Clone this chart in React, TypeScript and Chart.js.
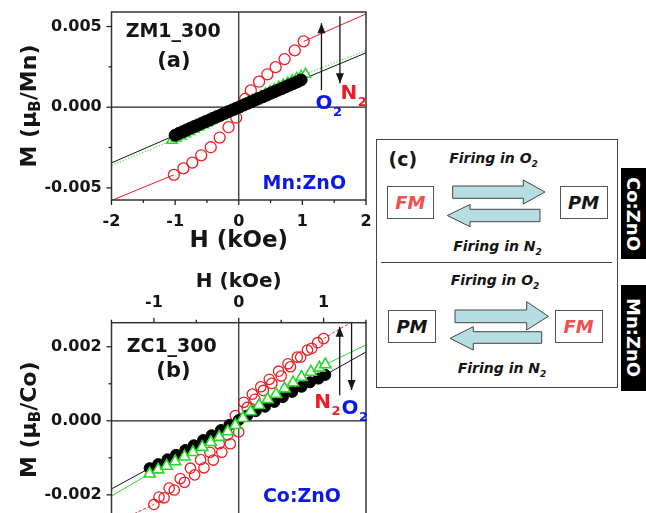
import React, { useEffect, useRef } from "react";
import { Chart, registerables } from "chart.js";

Chart.register(...registerables);

const FONT = '"DejaVu Sans", "Liberation Sans", sans-serif';
const RED = "rgb(236,30,36)";
const GREEN = "rgb(40,215,40)";
const LIGHTGREEN = "rgb(120,228,120)";
const BLUE = "rgb(12,24,230)";
const INK = "#151515";

// ---------------- Panel (a): ZM1_300, Mn:ZnO ----------------
const A_X_RANGE = [-2, 2];
const A_Y_RANGE = [-0.00575, 0.0059];
const A_X_TICKS = [-2, -1, 0, 1, 2];
const A_X_MINOR = [-1.5, -0.5, 0.5, 1.5];
const A_Y_TICKS = [-0.005, 0, 0.005];
const A_Y_MINOR = [-0.0025, 0.0025];

const A_RED_H = [-1.02, -0.87, -0.73, -0.59, -0.44, -0.3, -0.16, -0.04, 0.1, 0.19, 0.32, 0.45, 0.58, 0.72, 0.88, 1.02];
const A_RED_M = [-0.00419, -0.00379, -0.00343, -0.00298, -0.00248, -0.00188, -0.00124, -0.00064, 0.00052, 0.00104, 0.00158, 0.00204, 0.00248, 0.00298, 0.00352, 0.00408];

const A_BLK_H = [-1.0, -0.94, -0.88, -0.82, -0.76, -0.7, -0.64, -0.58, -0.52, -0.46, -0.4, -0.34, -0.28, -0.22, -0.16, -0.1, -0.04, 0.02, 0.08, 0.14, 0.2, 0.26, 0.32, 0.38, 0.44, 0.5, 0.56, 0.62, 0.68, 0.74, 0.8, 0.86, 0.92, 0.98];
const A_BLK_M = [-0.00174, -0.00162, -0.00152, -0.00141, -0.0013, -0.0012, -0.0011, -0.00099, -0.00089, -0.00079, -0.00068, -0.00058, -0.00048, -0.00037, -0.00027, -0.00017, -0.00007, 0.00003, 0.00014, 0.00024, 0.00034, 0.00045, 0.00055, 0.00065, 0.00075, 0.00086, 0.00096, 0.00106, 0.00116, 0.00127, 0.00137, 0.00147, 0.00157, 0.00169];

const A_GRN_H = [-1.05, -0.98, -0.91, -0.84, -0.77, -0.7, -0.63, -0.56, -0.49, -0.42, -0.35, -0.28, -0.21, -0.14, -0.07, 0.0, 0.07, 0.14, 0.21, 0.28, 0.35, 0.42, 0.49, 0.56, 0.63, 0.7, 0.77, 0.84, 0.91, 0.98, 1.05];
const A_GRN_M = [-0.00205, -0.00191, -0.00178, -0.00164, -0.0015, -0.00137, -0.00123, -0.00109, -0.00096, -0.00082, -0.00068, -0.00055, -0.00041, -0.00027, -0.00014, 0.0, 0.00014, 0.00027, 0.00041, 0.00055, 0.00068, 0.00082, 0.00096, 0.00109, 0.00123, 0.00137, 0.0015, 0.00164, 0.00178, 0.00191, 0.00205];

// high-field linear fits (null = gap between segments)
const A_RED_FIT_H = [-2, -1.02, null, 1.02, 2];
const A_RED_FIT_M = [-0.00578, -0.00419, null, 0.00408, 0.00578];
const A_BLK_FIT_H = [-2, -1.0, null, 0.98, 2];
const A_BLK_FIT_M = [-0.00345, -0.00174, null, 0.00169, 0.00337];
const A_GRN_FIT_H = [-2, -1.05, null, 1.05, 2];
const A_GRN_FIT_M = [-0.00362, -0.00205, null, 0.00205, 0.00352];

// arrows: O2 (up) and N2 (down)
const A_ARROW_H = [1.3, 1.59];
const A_ARROW_FROM = [0.00106, 0.00564];
const A_ARROW_TO = [0.0052, 0.00148];

// ---------------- Panel (b): ZC1_300, Co:ZnO ----------------
const B_X_RANGE = [-1.5, 1.5];
const B_Y_RANGE = [-0.00295, 0.00265];
const B_X_TICKS = [-1, 0, 1];
const B_X_MINOR = [-1.5, -0.5, 0.5, 1.5];
const B_Y_TICKS = [-0.002, 0, 0.002];
const B_Y_MINOR = [-0.001, 0.001];

const B_RED_H = [-1.0, -0.88, -0.76, -0.64, -0.52, -0.41, -0.3, -0.2, -0.1, 0.0, 0.1, 0.19, 0.29, 0.39, 0.5, 0.61, 0.73, 0.86, 1.0,
  0.93, 0.81, 0.69, 0.58, 0.47, 0.36, 0.26, 0.16, 0.06, -0.04, -0.13, -0.23, -0.34, -0.45, -0.57, -0.69, -0.82, -0.94];
const B_RED_M = [-0.00226, -0.00208, -0.00187, -0.00166, -0.00146, -0.00127, -0.00106, -0.00085, -0.00062, -0.0003, 0.00036, 0.00058, 0.00082, 0.00101, 0.00121, 0.00146, 0.00172, 0.00196, 0.00222,
  0.00211, 0.00191, 0.00172, 0.00154, 0.00134, 0.00112, 0.00092, 0.00072, 0.0005, 0.00014, -0.00038, -0.00062, -0.00085, -0.00105, -0.00128, -0.00156, -0.00182, -0.00206];

const B_BLK_H = [-1.05, -0.95, -0.84, -0.74, -0.63, -0.53, -0.42, -0.32, -0.21, -0.11, 0.0, 0.1, 0.2, 0.31, 0.42, 0.52, 0.63, 0.74, 0.84, 0.94, 1.02];
const B_BLK_M = [-0.00128, -0.00117, -0.00104, -0.00092, -0.00079, -0.00066, -0.00052, -0.00039, -0.00025, -0.00011, 0.00002, 0.00014, 0.00026, 0.00038, 0.00051, 0.00064, 0.00078, 0.00092, 0.00104, 0.00114, 0.00124];

const B_GRN_H = [-1.05, -0.95, -0.85, -0.75, -0.64, -0.54, -0.43, -0.33, -0.23, -0.13, -0.04, 0.05, 0.14, 0.24, 0.34, 0.44, 0.54, 0.64, 0.74, 0.85, 0.95, 1.02];
const B_GRN_M = [-0.00143, -0.00132, -0.00122, -0.0011, -0.00097, -0.00085, -0.00071, -0.00058, -0.00044, -0.00029, -0.00012, 0.00007, 0.00025, 0.00042, 0.00058, 0.00072, 0.00087, 0.00103, 0.00118, 0.00132, 0.00143, 0.00152];

const B_RED_FIT_H = [-1.5, -1.0, null, 1.0, 1.5];
const B_RED_FIT_M = [-0.0028, -0.00226, null, 0.00222, 0.0029];
const B_BLK_FIT_H = [-1.5, -1.05, null, 1.02, 1.5];
const B_BLK_FIT_M = [-0.00184, -0.00128, null, 0.00124, 0.00186];
const B_GRN_FIT_H = [-1.5, -1.05, null, 1.02, 1.5];
const B_GRN_FIT_M = [-0.00203, -0.00143, null, 0.00152, 0.00205];

// arrows: N2 (up) and O2 (down)
const B_ARROW_H = [1.19, 1.33];
const B_ARROW_FROM = [0.00069, 0.00265];
const B_ARROW_TO = [0.00254, 0.00083];

type Label = { text: string; sub?: string; h: number; m: number; color: string; size: number };

const A_LABELS: Label[] = [
  { text: "ZM1_300", h: -1.03, m: 0.00466, color: INK, size: 19 },
  { text: "(a)", h: -1.02, m: 0.00286, color: INK, size: 21 },
  { text: "Mn:ZnO", h: 1.03, m: -0.00478, color: BLUE, size: 19 },
  { text: "O", sub: "2", h: 1.34, m: 0.0002, color: BLUE, size: 20 },
  { text: "N", sub: "2", h: 1.73, m: 0.00085, color: RED, size: 20 },
];

const B_LABELS: Label[] = [
  { text: "ZC1_300", h: -0.79, m: 0.00199, color: INK, size: 19 },
  { text: "(b)", h: -0.77, m: 0.00134, color: INK, size: 21 },
  { text: "Co:ZnO", h: 0.745, m: -0.00207, color: BLUE, size: 19 },
  { text: "N", sub: "2", h: 0.99, m: 0.00049, color: RED, size: 20 },
  { text: "O", sub: "2", h: 1.31, m: 0.00033, color: BLUE, size: 20 },
];

// ---------------- helpers ----------------
const pts = (h: (number | null)[], m: (number | null)[]) => h.map((x, i) => ({ x, y: m[i] }));

function scatterSet(h: number[], m: number[], style: string, r: number, border: string, fill: string, bw: number, order: number) {
  return {
    data: pts(h, m),
    showLine: false,
    pointStyle: style,
    pointRadius: r,
    pointHoverRadius: r,
    borderColor: border,
    pointBorderColor: border,
    backgroundColor: fill,
    pointBackgroundColor: fill,
    pointBorderWidth: bw,
    order,
  };
}

function lineSet(h: (number | null)[], m: (number | null)[], color: string, width: number, dash: number[], order: number, extra: any = {}) {
  return {
    data: pts(h, m),
    showLine: true,
    borderColor: color,
    borderWidth: width,
    borderDash: dash,
    pointRadius: 0,
    pointHoverRadius: 0,
    fill: false,
    spanGaps: false,
    order,
    ...extra,
  };
}

function arrowSets(h: number[], from: number[], to: number[]) {
  return h.map((x, i) => lineSet([x, x], [from[i], to[i]], INK, 1.3, [], 1, { arrowHead: true }));
}

type Decor = {
  xPos: "top" | "bottom";
  xTicks: number[];
  xMinor: number[];
  yTicks: number[];
  yMinor: number[];
  yTitle: [string, string, string];
  yTitleX: number;
  yTitleAtZero: boolean;
  labels: Label[];
};

function makeDecor(p: Decor) {
  return {
    id: "decor",
    afterDatasetsDraw(chart: any) {
      const ctx = chart.ctx;
      chart.data.datasets.forEach((ds: any, i: number) => {
        if (!ds.arrowHead) return;
        const pts = chart.getDatasetMeta(i).data;
        const a = pts[0], b = pts[pts.length - 1];
        const dx = b.x - a.x, dy = b.y - a.y;
        const len = Math.hypot(dx, dy) || 1;
        const ux = dx / len, uy = dy / len;
        const L = 10, W = 4;
        ctx.save();
        ctx.fillStyle = INK;
        ctx.beginPath();
        ctx.moveTo(b.x, b.y);
        ctx.lineTo(b.x - ux * L - uy * W, b.y - uy * L + ux * W);
        ctx.lineTo(b.x - ux * L + uy * W, b.y - uy * L - ux * W);
        ctx.closePath();
        ctx.fill();
        ctx.restore();
      });
    },
    afterDraw(chart: any) {
      const { ctx, chartArea: ca } = chart;
      const xs = chart.scales.x, ys = chart.scales.y;
      ctx.save();
      // frame
      ctx.strokeStyle = "#333";
      ctx.lineWidth = 1.5;
      ctx.strokeRect(ca.left, ca.top, ca.right - ca.left, ca.bottom - ca.top);
      // ticks
      ctx.strokeStyle = "#222";
      ctx.lineWidth = 1.3;
      const seg = (x1: number, y1: number, x2: number, y2: number) => {
        ctx.beginPath();
        ctx.moveTo(x1, y1);
        ctx.lineTo(x2, y2);
        ctx.stroke();
      };
      const xe = p.xPos === "top" ? ca.top : ca.bottom;
      const d = p.xPos === "top" ? -1 : 1;
      p.xTicks.forEach((v) => { const px = xs.getPixelForValue(v); seg(px, xe, px, xe + d * 5); });
      p.xMinor.forEach((v) => { const px = xs.getPixelForValue(v); seg(px, xe, px, xe + d * 3); });
      p.yTicks.forEach((v) => { const py = ys.getPixelForValue(v); seg(ca.left, py, ca.left - 5, py); });
      p.yMinor.forEach((v) => { const py = ys.getPixelForValue(v); seg(ca.left, py, ca.left - 3, py); });
      // y title with subscript
      const [t1, tsub, t2] = p.yTitle;
      const cy = p.yTitleAtZero ? ys.getPixelForValue(0) - 1 : (ca.top + ca.bottom) / 2;
      ctx.translate(p.yTitleX, cy);
      ctx.rotate(-Math.PI / 2);
      ctx.fillStyle = INK;
      ctx.textBaseline = "middle";
      ctx.textAlign = "left";
      const mainF = `bold 22px ${FONT}`, subF = `bold 15px ${FONT}`;
      ctx.font = mainF; const w1 = ctx.measureText(t1).width; const w3 = ctx.measureText(t2).width;
      ctx.font = subF; const w2 = ctx.measureText(tsub).width;
      let x0 = -(w1 + w2 + w3) / 2;
      ctx.font = mainF; ctx.fillText(t1, x0, 0); x0 += w1;
      ctx.font = subF; ctx.fillText(tsub, x0, 6); x0 += w2;
      ctx.font = mainF; ctx.fillText(t2, x0, 0);
      ctx.setTransform(1, 0, 0, 1, 0, 0);
      ctx.restore();
      ctx.save();
      // in-plot labels
      p.labels.forEach((a) => {
        const px = xs.getPixelForValue(a.h), py = ys.getPixelForValue(a.m);
        ctx.font = `bold ${a.size}px ${FONT}`;
        ctx.fillStyle = a.color;
        ctx.textBaseline = "middle";
        ctx.textAlign = "center";
        ctx.fillText(a.text, px, py);
        if (a.sub) {
          const w = ctx.measureText(a.text).width;
          ctx.font = `bold ${Math.round(a.size * 0.65)}px ${FONT}`;
          ctx.textAlign = "left";
          ctx.fillText(a.sub, px + w / 2 + 0.5, py + a.size * 0.45);
        }
      });
      ctx.restore();
    },
  };
}

function axisFont(size: number) {
  return { family: FONT, size, weight: "bold" as const };
}

const noPad = (s: any) => {
  s.paddingTop = 0;
  s.paddingBottom = 0;
  s.paddingLeft = 0;
  s.paddingRight = 0;
};

function buildConfig(o: {
  xRange: number[]; yRange: number[]; xTicks: number[]; yTicks: number[];
  xPos: "top" | "bottom"; xAxisH: number; xLabelPad: number; xTitleSize: number; xTitlePad: any;
  yAxisW: number; yLabelPad: number; padding: any; datasets: any[]; decor: Decor;
}) {
  return {
    type: "scatter" as const,
    data: { datasets: o.datasets },
    options: {
      animation: false as const,
      responsive: false,
      devicePixelRatio: 1,
      events: [],
      layout: { padding: o.padding },
      plugins: { legend: { display: false }, tooltip: { enabled: false } },
      scales: {
        x: {
          type: "linear" as const,
          position: o.xPos,
          min: o.xRange[0],
          max: o.xRange[1],
          grid: { display: false, drawTicks: false },
          border: { display: false },
          afterBuildTicks: (s: any) => { s.ticks = o.xTicks.map((v) => ({ value: v })); },
          afterFit: (s: any) => { s.height = o.xAxisH; noPad(s); },
          ticks: {
            padding: o.xLabelPad, color: INK, font: axisFont(16), maxRotation: 0, autoSkip: false,
            callback: (v: any) => String(Number(v)),
          },
          title: { display: true, text: "H (kOe)", color: INK, font: axisFont(o.xTitleSize), padding: o.xTitlePad },
        },
        y: {
          type: "linear" as const,
          min: o.yRange[0],
          max: o.yRange[1],
          grid: { display: false, drawTicks: false },
          border: { display: false },
          afterBuildTicks: (s: any) => { s.ticks = o.yTicks.map((v) => ({ value: v })); },
          afterFit: (s: any) => { s.width = o.yAxisW; noPad(s); },
          ticks: {
            padding: o.yLabelPad, color: INK, font: axisFont(16), autoSkip: false,
            callback: (v: any) => Number(v).toFixed(3),
          },
        },
      },
    },
    plugins: [makeDecor(o.decor)],
  };
}

function panelA() {
  const datasets = [
    lineSet([A_X_RANGE[0], A_X_RANGE[1]], [0, 0], "#222", 1.2, [], 20),
    lineSet([0, 0], [A_Y_RANGE[0], A_Y_RANGE[1]], "#222", 1.2, [], 20),
    lineSet(A_RED_FIT_H, A_RED_FIT_M, RED, 1, [], 12),
    lineSet(A_GRN_FIT_H, A_GRN_FIT_M, LIGHTGREEN, 1.3, [1.5, 1.5], 12),
    lineSet(A_BLK_FIT_H, A_BLK_FIT_M, INK, 1, [], 11),
    scatterSet(A_RED_H, A_RED_M, "circle", 5.5, RED, "rgba(0,0,0,0)", 1.3, 6),
    scatterSet(A_GRN_H, A_GRN_M, "triangle", 6, GREEN, "#fff", 1.5, 5),
    scatterSet(A_BLK_H, A_BLK_M, "circle", 6, "#000", "#000", 1, 4),
    ...arrowSets(A_ARROW_H, A_ARROW_FROM, A_ARROW_TO),
  ];
  return buildConfig({
    xRange: A_X_RANGE, yRange: A_Y_RANGE, xTicks: A_X_TICKS, yTicks: A_Y_TICKS,
    xPos: "bottom", xAxisH: 60, xLabelPad: 12, xTitleSize: 23, xTitlePad: { top: 0, bottom: 5.5 },
    yAxisW: 111.5, yLabelPad: 9.8, padding: { top: 12, right: 14, left: 0, bottom: 0 },
    datasets,
    decor: {
      xPos: "bottom", xTicks: A_X_TICKS, xMinor: A_X_MINOR, yTicks: A_Y_TICKS, yMinor: A_Y_MINOR,
      yTitle: ["M (\u03bc", "B", "/Mn)"], yTitleX: 30, yTitleAtZero: false, labels: A_LABELS,
    },
  });
}

function panelB() {
  const datasets = [
    lineSet([B_X_RANGE[0], B_X_RANGE[1]], [0, 0], "#222", 1.2, [], 20),
    lineSet([0, 0], [B_Y_RANGE[0], B_Y_RANGE[1]], "#222", 1.2, [], 20),
    lineSet(B_RED_FIT_H, B_RED_FIT_M, RED, 1, [3, 2], 12),
    lineSet(B_GRN_FIT_H, B_GRN_FIT_M, GREEN, 1, [], 12),
    lineSet(B_BLK_FIT_H, B_BLK_FIT_M, INK, 1, [], 11),
    scatterSet(B_RED_H, B_RED_M, "circle", 5.2, RED, "rgba(0,0,0,0)", 1.3, 6),
    scatterSet(B_BLK_H, B_BLK_M, "circle", 5.5, "#000", "#000", 1, 5),
    scatterSet(B_GRN_H, B_GRN_M, "triangle", 6.5, GREEN, "#fff", 1.6, 4),
    ...arrowSets(B_ARROW_H, B_ARROW_FROM, B_ARROW_TO),
  ];
  return buildConfig({
    xRange: B_X_RANGE, yRange: B_Y_RANGE, xTicks: B_X_TICKS, yTicks: B_Y_TICKS,
    xPos: "top", xAxisH: 62.7, xLabelPad: 9.8, xTitleSize: 20, xTitlePad: { top: 9.7, bottom: 0 },
    yAxisW: 111.5, yLabelPad: 9.8, padding: { top: 0, right: 14, left: 0, bottom: 10 },
    datasets,
    decor: {
      xPos: "top", xTicks: B_X_TICKS, xMinor: B_X_MINOR, yTicks: B_Y_TICKS, yMinor: B_Y_MINOR,
      yTitle: ["M (\u03bc", "B", "/Co)"], yTitleX: 30, yTitleAtZero: true, labels: B_LABELS,
    },
  });
}

function MagChart({ build, top, height }: { build: () => any; top: number; height: number }) {
  const ref = useRef<HTMLCanvasElement>(null);
  useEffect(() => {
    const chart = new Chart(ref.current as HTMLCanvasElement, build());
    return () => chart.destroy();
  }, []);
  return (
    <canvas
      ref={ref}
      width={380}
      height={height}
      style={{ position: "absolute", left: 0, top, width: 380, height }}
    />
  );
}

// ---------------- Panel (c): schematic ----------------
function Firing({ cx, cy, gas }: { cx: number; cy: number; gas: string }) {
  return (
    <div
      style={{
        position: "absolute", left: cx - 70, top: cy - 10, width: 140, height: 20, lineHeight: "20px",
        textAlign: "center", font: `italic bold 14px ${FONT}`, color: INK, whiteSpace: "nowrap",
      }}
    >
      Firing in {gas}
      <span style={{ fontSize: 9, position: "relative", top: 4 }}>2</span>
    </div>
  );
}

function StateBox({ left, top, w, text, color }: { left: number; top: number; w: number; text: string; color: string }) {
  return (
    <div
      style={{
        position: "absolute", left, top, width: w, height: 33.3, boxSizing: "border-box",
        border: "1px solid #555", display: "flex", alignItems: "center", justifyContent: "center",
        font: `italic bold 18px ${FONT}`, color, background: "#fff",
      }}
    >
      {text}
    </div>
  );
}

function SideTag({ top, h, text }: { top: number; h: number; text: string }) {
  return (
    <div
      style={{
        position: "absolute", left: 620.5, top, width: 25.5, height: h, background: "#000", color: "#fff",
        display: "flex", alignItems: "center", justifyContent: "center",
      }}
    >
      <span style={{ writingMode: "vertical-rl", font: `bold 18px ${FONT}`, lineHeight: "25px" }}>{text}</span>
    </div>
  );
}

function PanelC() {
  const arrowFill = "rgb(182,222,226)";
  return (
    <>
      <div style={{ position: "absolute", left: 376, top: 139, width: 242, height: 249, boxSizing: "border-box", border: "1.5px solid #444", background: "#fff" }}>
        <div style={{ position: "absolute", left: 0, top: 0, width: 242, height: 249, marginLeft: -1.5, marginTop: -1.5 }}>
          <div style={{ position: "absolute", left: 13, top: 8, font: `bold 19px ${FONT}`, color: INK, lineHeight: "24px" }}>(c)</div>
          <Firing cx={118} cy={21} gas="O" />
          <Firing cx={122} cy={109.3} gas="N" />
          <Firing cx={119.5} cy={143.7} gas="O" />
          <Firing cx={126.5} cy={231} gas="N" />
          <StateBox left={11.3} top={47} w={47} text="FM" color="rgb(244,78,78)" />
          <StateBox left={184} top={47} w={48.3} text="PM" color={INK} />
          <StateBox left={12.3} top={171} w={48.3} text="PM" color={INK} />
          <StateBox left={179} top={171} w={48.3} text="FM" color="rgb(244,78,78)" />
          <div style={{ position: "absolute", left: 5.7, top: 123.2, width: 231, height: 0, borderTop: "1.2px solid #444" }} />
          <svg width={242} height={249} style={{ position: "absolute", left: 0, top: 0 }}>
            <g fill={arrowFill} stroke="#444" strokeWidth={1}>
              <polygon points="76.7,47 147.3,47 147.3,41 169,53 147.3,65 147.3,59.3 76.7,59.3" />
              <polygon points="71.3,76.5 94,65.5 94,70.3 164,70.3 164,82.7 94,82.7 94,87.7" />
              <polygon points="79,171 150.7,171 150.7,162.7 172.3,177.3 150.7,191 150.7,183.7 79,183.7" />
              <polygon points="74,199.3 97.3,187.7 97.3,192.7 165.7,192.7 165.7,204.3 97.3,204.3 97.3,211" />
            </g>
          </svg>
        </div>
      </div>
      <SideTag top={168} h={91} text="Co:ZnO" />
      <SideTag top={285} h={106} text="Mn:ZnO" />
    </>
  );
}

export default function App() {
  return (
    <div style={{ position: "fixed", left: 0, top: 0, width: 646, height: 513, overflow: "hidden", background: "#fff" }}>
      <MagChart build={panelA} top={0} height={260} />
      <MagChart build={panelB} top={260} height={280} />
      <PanelC />
    </div>
  );
}
